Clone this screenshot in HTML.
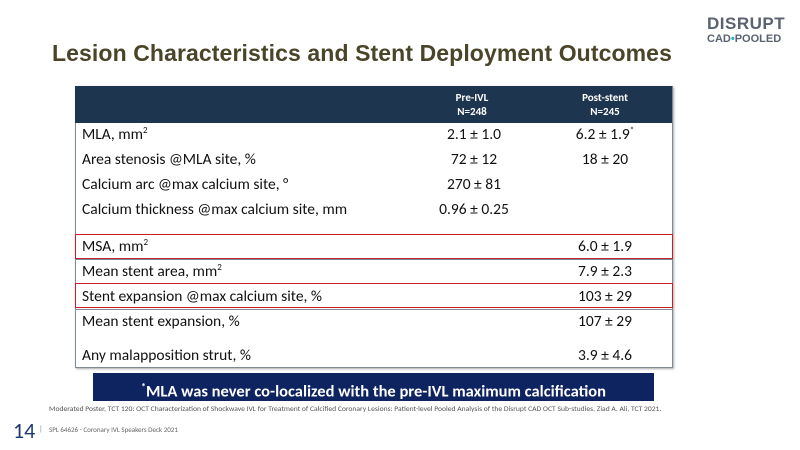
<!DOCTYPE html>
<html><head><meta charset="utf-8"><style>
body{margin:0;width:800px;height:450px;background:#fff;position:relative;overflow:hidden;font-family:"Carlito","Liberation Sans",sans-serif;}
.a{position:absolute;white-space:nowrap}
.title{left:52px;top:40px;font:bold 23px "Liberation Sans",sans-serif;color:#4a4429;letter-spacing:0.1px}
.tbl{position:absolute;left:75px;top:86px;width:596px;height:281px;border:1px solid #7f8a95;border-top:none;box-shadow:1px 1px 2px #aaa}
.hdr{position:absolute;left:75px;top:86px;width:597px;height:37px;background:#1d354f}
.h{color:#fff;font-size:11px;font-weight:bold;text-align:center;line-height:14px;width:100px}
.r{font-size:15.5px;color:#111}
.box{position:absolute;left:75px;width:596px;border:1.5px solid #c8202a}
.sep{position:absolute;left:75px;width:597px;height:1px;background:#7f8a95}
</style></head><body>
<div class="a title">Lesion Characteristics and Stent Deployment Outcomes</div>
<div class="a" style="left:707px;top:14px;font:bold 17px 'Liberation Sans',sans-serif;color:#5a6270;letter-spacing:0.5px">DISRUPT</div>
<div class="a" style="left:707px;top:33px;font:bold 11px 'Liberation Sans',sans-serif;color:#5a6270">CAD<span style="color:#2aa8d8">•</span>POOLED</div>
<div class="tbl"></div>
<div class="hdr"></div>
<div class="a h" style="left:422px;top:91px">Pre-IVL<br>N=248</div>
<div class="a h" style="left:555px;top:91px">Post-stent<br>N=245</div>
<div class="sep" style="top:259px"></div>
<div class="sep" style="top:309px"></div>
<div class="box" style="top:234px;height:23px"></div>
<div class="box" style="top:283px;height:23px"></div>
<div class="a r" style="left:82px;top:125px">MLA, mm<sup style="font-size:9px">2</sup></div>
<div class="a r" style="left:82px;top:150px">Area stenosis @MLA site, %</div>
<div class="a r" style="left:82px;top:175px">Calcium arc @max calcium site, °</div>
<div class="a r" style="left:82px;top:200px">Calcium thickness @max calcium site, mm</div>
<div class="a r" style="left:82px;top:237px">MSA, mm<sup style="font-size:9px">2</sup></div>
<div class="a r" style="left:82px;top:262px">Mean stent area, mm<sup style="font-size:9px">2</sup></div>
<div class="a r" style="left:82px;top:287px">Stent expansion @max calcium site, %</div>
<div class="a r" style="left:82px;top:312px">Mean stent expansion, %</div>
<div class="a r" style="left:82px;top:346px">Any malapposition strut, %</div>
<div class="a r" style="left:439px;top:125px;width:70px;text-align:center">2.1 ± 1.0</div>
<div class="a r" style="left:439px;top:150px;width:70px;text-align:center">72 ± 12</div>
<div class="a r" style="left:439px;top:175px;width:70px;text-align:center">270 ± 81</div>
<div class="a r" style="left:434px;top:200px;width:80px;text-align:center">0.96 ± 0.25</div>
<div class="a r" style="left:570px;top:125px;width:70px;text-align:center">6.2 ± 1.9<sup style="font-size:9px">*</sup></div>
<div class="a r" style="left:570px;top:150px;width:70px;text-align:center">18 ± 20</div>
<div class="a r" style="left:570px;top:237px;width:70px;text-align:center">6.0 ± 1.9</div>
<div class="a r" style="left:570px;top:262px;width:70px;text-align:center">7.9 ± 2.3</div>
<div class="a r" style="left:570px;top:287px;width:70px;text-align:center">103 ± 29</div>
<div class="a r" style="left:570px;top:312px;width:70px;text-align:center">107 ± 29</div>
<div class="a r" style="left:570px;top:346px;width:70px;text-align:center">3.9 ± 4.6</div>
<div class="a" style="left:93px;top:373px;width:561px;height:28px;background:#0d2461;color:#fff;font-size:16.5px;font-weight:bold;text-align:center;line-height:28px"><sup style="font-size:10px">*</sup>MLA was never co-localized with the pre-IVL maximum calcification</div>
<div class="a" style="left:49px;top:405px;font-size:7.6px;color:#555">Moderated Poster, TCT 120: OCT Characterization of Shockwave IVL for Treatment of Calcified Coronary Lesions: Patient-level Pooled Analysis of the Disrupt CAD OCT Sub-studies, Ziad A. Ali, TCT 2021.</div>
<div class="a" style="left:13px;top:417px;font-size:22px;color:#1d3a6e">14</div>
<div class="a" style="left:39px;top:424px;font-size:8px;color:#888">|</div>
<div class="a" style="left:49px;top:425px;font-size:7px;color:#666">SPL 64626 - Coronary IVL Speakers Deck 2021</div>
</body></html>
